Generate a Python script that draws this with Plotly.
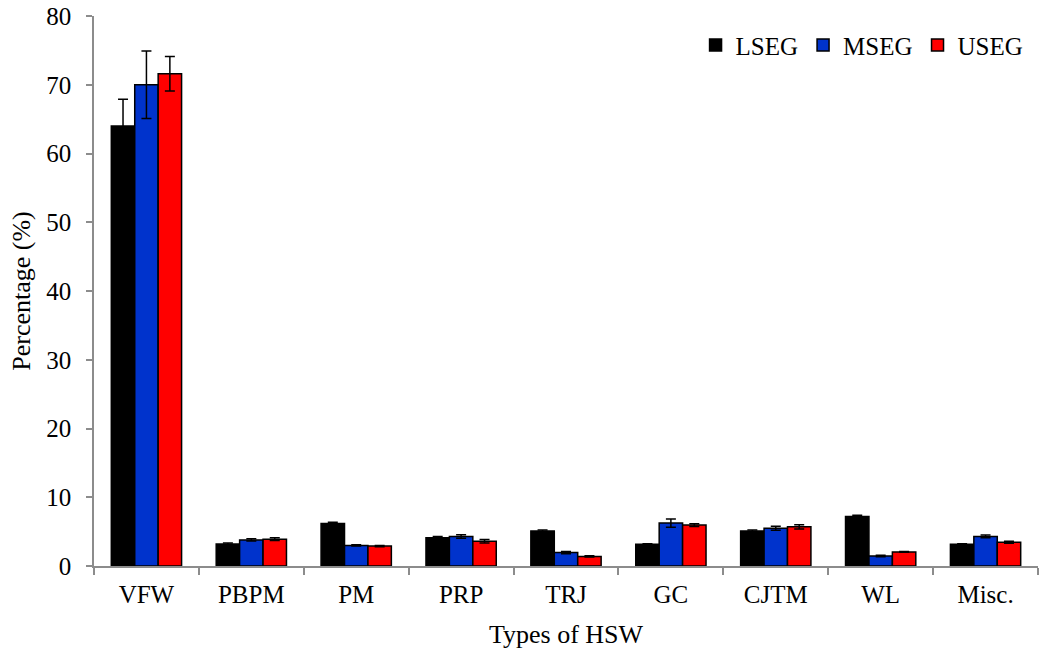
import plotly.graph_objects as go

categories = ["VFW", "PBPM", "PM", "PRP", "TRJ", "GC", "CJTM", "WL", "Misc."]
lseg = [64.0, 3.2, 6.2, 4.1, 5.1, 3.15, 5.1, 7.2, 3.15]
mseg = [70.0, 3.8, 3.0, 4.3, 1.95, 6.25, 5.5, 1.45, 4.3]
useg = [71.6, 3.9, 2.9, 3.6, 1.4, 5.95, 5.7, 2.05, 3.45]
lseg_err = [3.9, 0.15, 0.15, 0.2, 0.15, 0.1, 0.15, 0.2, 0.1]
mseg_err = [4.9, 0.15, 0.1, 0.25, 0.15, 0.6, 0.3, 0.1, 0.2]
useg_err = [2.5, 0.2, 0.1, 0.25, 0.1, 0.2, 0.3, 0.05, 0.15]

series = [
    ("LSEG", lseg, lseg_err, "#000000"),
    ("MSEG", mseg, mseg_err, "#0033CC"),
    ("USEG", useg, useg_err, "#FF0000"),
]

fig = go.Figure()
for name, vals, errs, color in series:
    fig.add_trace(go.Bar(
        x=categories, y=vals, name=name,
        marker=dict(color=color, line=dict(color="#000000", width=1.5)),
        error_y=dict(type="data", array=errs, visible=True, color="#000000",
                     thickness=1.5, width=5),
    ))

font_family = "Times New Roman, Liberation Serif, serif"
FS = 25
FT = 26
fig.update_layout(
    width=1039, height=651,
    barmode="group", bargap=0.33, bargroupgap=0,
    plot_bgcolor="white", paper_bgcolor="white",
    margin=dict(l=94, r=1, t=16, b=85, autoexpand=False),
    font=dict(family=font_family, size=FS, color="#000000"),
    legend=dict(orientation="h", x=0.99, xanchor="right", y=0.947, yanchor="middle",
                font=dict(size=FS), itemwidth=30, tracegroupgap=0,
                bgcolor="rgba(0,0,0,0)"),
    showlegend=True,
)
fig.update_xaxes(
    title=dict(text="Types of HSW", font=dict(size=FT), standoff=18),
    showline=True, linecolor="#8c8c8c", linewidth=1.5,
    ticks="outside", tickson="boundaries", ticklen=7, tickcolor="#8c8c8c", tickwidth=1.5,
    showgrid=False, tickfont=dict(size=FS), ticklabelstandoff=5,
    automargin=False,
)
fig.update_yaxes(
    title=dict(text="Percentage (%)", font=dict(size=FT), standoff=8),
    range=[0, 80], dtick=10,
    showline=True, linecolor="#8c8c8c", linewidth=1.5,
    ticks="outside", ticklen=6, tickcolor="#8c8c8c", tickwidth=1.5,
    showgrid=False, zeroline=False, tickfont=dict(size=FS), ticklabelstandoff=10,
    ticklabeloverflow="allow", automargin=False,
)

fig.write_html("out.html", config={"displayModeBar": False},
               post_script="document.body.style.margin='0';")
